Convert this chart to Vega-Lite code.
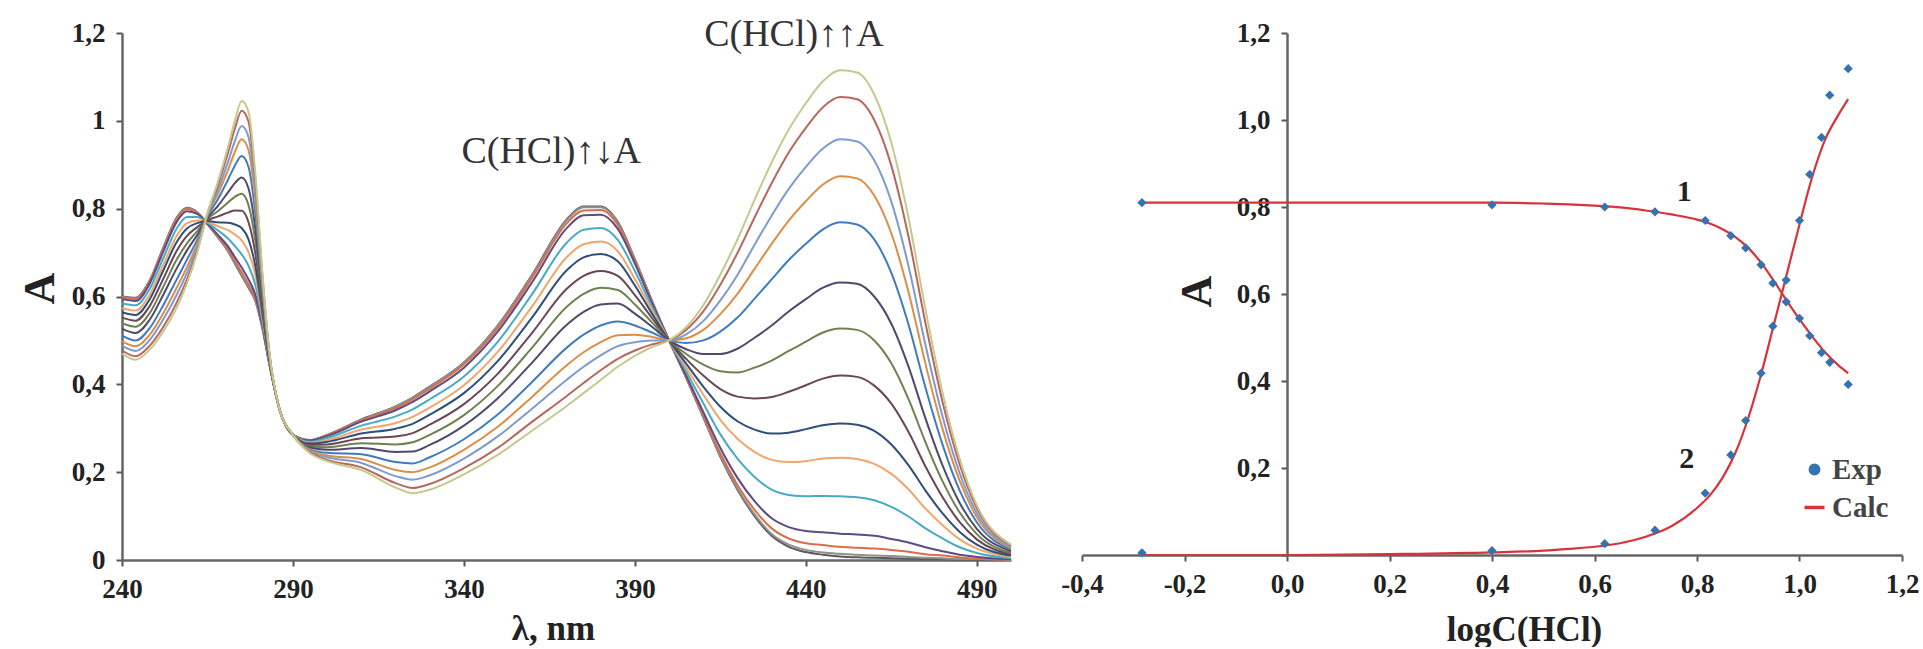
{
"$schema": "https://vega.github.io/schema/vega-lite/v6.json",
"background": "white",
"padding": {"left": 18, "top": 16, "right": 5, "bottom": 0},
"spacing": 71,
"bounds": "flush",
"resolve": {"scale": {"color": "independent"}, "legend": {"color": "independent"}},
"config": {
  "view": {"stroke": null},
  "axis": {"grid": false, "labelFont": "Liberation Serif", "titleFont": "Liberation Serif", "labelFontWeight": "bold", "titleFontWeight": "bold", "labelColor": "#222", "titleColor": "#222", "domainColor": "#666", "tickColor": "#555", "domainWidth": 2.5, "tickWidth": 2, "tickSize": 6, "labelFontSize": 27, "labelFlush": false, "labelOverlap": false}
},
"datasets": {
"spectra": [
{"w":240,"s":0,"a":0.600},{"w":240,"s":1,"a":0.599},{"w":240,"s":2,"a":0.597},{"w":240,"s":3,"a":0.594},{"w":240,"s":4,"a":0.584},{"w":240,"s":5,"a":0.574},{"w":240,"s":6,"a":0.564},{"w":240,"s":7,"a":0.552},{"w":240,"s":8,"a":0.539},{"w":240,"s":9,"a":0.527},{"w":240,"s":10,"a":0.511},{"w":240,"s":11,"a":0.498},{"w":240,"s":12,"a":0.488},{"w":240,"s":13,"a":0.477},{"w":240,"s":14,"a":0.470},
{"w":244,"s":0,"a":0.597},{"w":244,"s":1,"a":0.596},{"w":244,"s":2,"a":0.594},{"w":244,"s":3,"a":0.590},{"w":244,"s":4,"a":0.580},{"w":244,"s":5,"a":0.568},{"w":244,"s":6,"a":0.558},{"w":244,"s":7,"a":0.545},{"w":244,"s":8,"a":0.531},{"w":244,"s":9,"a":0.517},{"w":244,"s":10,"a":0.500},{"w":244,"s":11,"a":0.487},{"w":244,"s":12,"a":0.476},{"w":244,"s":13,"a":0.464},{"w":244,"s":14,"a":0.456},
{"w":248,"s":0,"a":0.635},{"w":248,"s":1,"a":0.634},{"w":248,"s":2,"a":0.632},{"w":248,"s":3,"a":0.628},{"w":248,"s":4,"a":0.616},{"w":248,"s":5,"a":0.603},{"w":248,"s":6,"a":0.592},{"w":248,"s":7,"a":0.577},{"w":248,"s":8,"a":0.561},{"w":248,"s":9,"a":0.546},{"w":248,"s":10,"a":0.527},{"w":248,"s":11,"a":0.512},{"w":248,"s":12,"a":0.500},{"w":248,"s":13,"a":0.487},{"w":248,"s":14,"a":0.478},
{"w":252,"s":0,"a":0.710},{"w":252,"s":1,"a":0.709},{"w":252,"s":2,"a":0.706},{"w":252,"s":3,"a":0.701},{"w":252,"s":4,"a":0.686},{"w":252,"s":5,"a":0.671},{"w":252,"s":6,"a":0.658},{"w":252,"s":7,"a":0.639},{"w":252,"s":8,"a":0.621},{"w":252,"s":9,"a":0.603},{"w":252,"s":10,"a":0.579},{"w":252,"s":11,"a":0.561},{"w":252,"s":12,"a":0.547},{"w":252,"s":13,"a":0.530},{"w":252,"s":14,"a":0.520},
{"w":256,"s":0,"a":0.780},{"w":256,"s":1,"a":0.779},{"w":256,"s":2,"a":0.776},{"w":256,"s":3,"a":0.770},{"w":256,"s":4,"a":0.755},{"w":256,"s":5,"a":0.738},{"w":256,"s":6,"a":0.724},{"w":256,"s":7,"a":0.704},{"w":256,"s":8,"a":0.684},{"w":256,"s":9,"a":0.664},{"w":256,"s":10,"a":0.639},{"w":256,"s":11,"a":0.620},{"w":256,"s":12,"a":0.604},{"w":256,"s":13,"a":0.586},{"w":256,"s":14,"a":0.575},
{"w":259,"s":0,"a":0.802},{"w":259,"s":1,"a":0.801},{"w":259,"s":2,"a":0.799},{"w":259,"s":3,"a":0.794},{"w":259,"s":4,"a":0.781},{"w":259,"s":5,"a":0.767},{"w":259,"s":6,"a":0.755},{"w":259,"s":7,"a":0.738},{"w":259,"s":8,"a":0.721},{"w":259,"s":9,"a":0.705},{"w":259,"s":10,"a":0.684},{"w":259,"s":11,"a":0.667},{"w":259,"s":12,"a":0.654},{"w":259,"s":13,"a":0.639},{"w":259,"s":14,"a":0.630},
{"w":262,"s":0,"a":0.792},{"w":262,"s":1,"a":0.792},{"w":262,"s":2,"a":0.790},{"w":262,"s":3,"a":0.788},{"w":262,"s":4,"a":0.781},{"w":262,"s":5,"a":0.773},{"w":262,"s":6,"a":0.767},{"w":262,"s":7,"a":0.758},{"w":262,"s":8,"a":0.749},{"w":262,"s":9,"a":0.740},{"w":262,"s":10,"a":0.729},{"w":262,"s":11,"a":0.720},{"w":262,"s":12,"a":0.713},{"w":262,"s":13,"a":0.705},{"w":262,"s":14,"a":0.700},
{"w":265,"s":0,"a":0.765},{"w":265,"s":1,"a":0.765},{"w":265,"s":2,"a":0.766},{"w":265,"s":3,"a":0.766},{"w":265,"s":4,"a":0.768},{"w":265,"s":5,"a":0.770},{"w":265,"s":6,"a":0.772},{"w":265,"s":7,"a":0.774},{"w":265,"s":8,"a":0.777},{"w":265,"s":9,"a":0.779},{"w":265,"s":10,"a":0.782},{"w":265,"s":11,"a":0.785},{"w":265,"s":12,"a":0.786},{"w":265,"s":13,"a":0.789},{"w":265,"s":14,"a":0.790},
{"w":268,"s":0,"a":0.735},{"w":268,"s":1,"a":0.736},{"w":268,"s":2,"a":0.738},{"w":268,"s":3,"a":0.741},{"w":268,"s":4,"a":0.751},{"w":268,"s":5,"a":0.760},{"w":268,"s":6,"a":0.769},{"w":268,"s":7,"a":0.782},{"w":268,"s":8,"a":0.794},{"w":268,"s":9,"a":0.806},{"w":268,"s":10,"a":0.821},{"w":268,"s":11,"a":0.833},{"w":268,"s":12,"a":0.842},{"w":268,"s":13,"a":0.853},{"w":268,"s":14,"a":0.860},
{"w":271,"s":0,"a":0.703},{"w":271,"s":1,"a":0.704},{"w":271,"s":2,"a":0.708},{"w":271,"s":3,"a":0.714},{"w":271,"s":4,"a":0.732},{"w":271,"s":5,"a":0.751},{"w":271,"s":6,"a":0.768},{"w":271,"s":7,"a":0.791},{"w":271,"s":8,"a":0.814},{"w":271,"s":9,"a":0.837},{"w":271,"s":10,"a":0.866},{"w":271,"s":11,"a":0.888},{"w":271,"s":12,"a":0.906},{"w":271,"s":13,"a":0.927},{"w":271,"s":14,"a":0.940},
{"w":273,"s":0,"a":0.675},{"w":273,"s":1,"a":0.677},{"w":273,"s":2,"a":0.682},{"w":273,"s":3,"a":0.690},{"w":273,"s":4,"a":0.715},{"w":273,"s":5,"a":0.741},{"w":273,"s":6,"a":0.764},{"w":273,"s":7,"a":0.796},{"w":273,"s":8,"a":0.827},{"w":273,"s":9,"a":0.858},{"w":273,"s":10,"a":0.898},{"w":273,"s":11,"a":0.929},{"w":273,"s":12,"a":0.954},{"w":273,"s":13,"a":0.982},{"w":273,"s":14,"a":1.000},
{"w":275,"s":0,"a":0.647},{"w":275,"s":1,"a":0.649},{"w":275,"s":2,"a":0.655},{"w":275,"s":3,"a":0.666},{"w":275,"s":4,"a":0.696},{"w":275,"s":5,"a":0.728},{"w":275,"s":6,"a":0.756},{"w":275,"s":7,"a":0.795},{"w":275,"s":8,"a":0.834},{"w":275,"s":9,"a":0.871},{"w":275,"s":10,"a":0.920},{"w":275,"s":11,"a":0.958},{"w":275,"s":12,"a":0.988},{"w":275,"s":13,"a":1.023},{"w":275,"s":14,"a":1.045},
{"w":277,"s":0,"a":0.620},{"w":277,"s":1,"a":0.622},{"w":277,"s":2,"a":0.628},{"w":277,"s":3,"a":0.639},{"w":277,"s":4,"a":0.670},{"w":277,"s":5,"a":0.701},{"w":277,"s":6,"a":0.730},{"w":277,"s":7,"a":0.769},{"w":277,"s":8,"a":0.808},{"w":277,"s":9,"a":0.846},{"w":277,"s":10,"a":0.895},{"w":277,"s":11,"a":0.933},{"w":277,"s":12,"a":0.963},{"w":277,"s":13,"a":0.998},{"w":277,"s":14,"a":1.020},
{"w":279,"s":0,"a":0.590},{"w":279,"s":1,"a":0.591},{"w":279,"s":2,"a":0.596},{"w":279,"s":3,"a":0.604},{"w":279,"s":4,"a":0.626},{"w":279,"s":5,"a":0.649},{"w":279,"s":6,"a":0.669},{"w":279,"s":7,"a":0.698},{"w":279,"s":8,"a":0.726},{"w":279,"s":9,"a":0.754},{"w":279,"s":10,"a":0.789},{"w":279,"s":11,"a":0.817},{"w":279,"s":12,"a":0.839},{"w":279,"s":13,"a":0.864},{"w":279,"s":14,"a":0.880},
{"w":281,"s":0,"a":0.530},{"w":281,"s":1,"a":0.531},{"w":281,"s":2,"a":0.533},{"w":281,"s":3,"a":0.536},{"w":281,"s":4,"a":0.546},{"w":281,"s":5,"a":0.556},{"w":281,"s":6,"a":0.566},{"w":281,"s":7,"a":0.578},{"w":281,"s":8,"a":0.591},{"w":281,"s":9,"a":0.603},{"w":281,"s":10,"a":0.619},{"w":281,"s":11,"a":0.632},{"w":281,"s":12,"a":0.642},{"w":281,"s":13,"a":0.653},{"w":281,"s":14,"a":0.660},
{"w":283,"s":0,"a":0.450},{"w":283,"s":1,"a":0.450},{"w":283,"s":2,"a":0.451},{"w":283,"s":3,"a":0.451},{"w":283,"s":4,"a":0.454},{"w":283,"s":5,"a":0.456},{"w":283,"s":6,"a":0.458},{"w":283,"s":7,"a":0.461},{"w":283,"s":8,"a":0.464},{"w":283,"s":9,"a":0.467},{"w":283,"s":10,"a":0.471},{"w":283,"s":11,"a":0.473},{"w":283,"s":12,"a":0.476},{"w":283,"s":13,"a":0.478},{"w":283,"s":14,"a":0.480},
{"w":286,"s":0,"a":0.345},{"w":286,"s":1,"a":0.345},{"w":286,"s":2,"a":0.345},{"w":286,"s":3,"a":0.345},{"w":286,"s":4,"a":0.345},{"w":286,"s":5,"a":0.345},{"w":286,"s":6,"a":0.345},{"w":286,"s":7,"a":0.345},{"w":286,"s":8,"a":0.345},{"w":286,"s":9,"a":0.345},{"w":286,"s":10,"a":0.345},{"w":286,"s":11,"a":0.345},{"w":286,"s":12,"a":0.345},{"w":286,"s":13,"a":0.345},{"w":286,"s":14,"a":0.345},
{"w":290,"s":0,"a":0.285},{"w":290,"s":1,"a":0.285},{"w":290,"s":2,"a":0.285},{"w":290,"s":3,"a":0.285},{"w":290,"s":4,"a":0.285},{"w":290,"s":5,"a":0.285},{"w":290,"s":6,"a":0.285},{"w":290,"s":7,"a":0.285},{"w":290,"s":8,"a":0.285},{"w":290,"s":9,"a":0.285},{"w":290,"s":10,"a":0.285},{"w":290,"s":11,"a":0.285},{"w":290,"s":12,"a":0.285},{"w":290,"s":13,"a":0.285},{"w":290,"s":14,"a":0.285},
{"w":295,"s":0,"a":0.273},{"w":295,"s":1,"a":0.273},{"w":295,"s":2,"a":0.272},{"w":295,"s":3,"a":0.272},{"w":295,"s":4,"a":0.269},{"w":295,"s":5,"a":0.267},{"w":295,"s":6,"a":0.265},{"w":295,"s":7,"a":0.262},{"w":295,"s":8,"a":0.259},{"w":295,"s":9,"a":0.256},{"w":295,"s":10,"a":0.252},{"w":295,"s":11,"a":0.250},{"w":295,"s":12,"a":0.247},{"w":295,"s":13,"a":0.245},{"w":295,"s":14,"a":0.243},
{"w":300,"s":0,"a":0.285},{"w":300,"s":1,"a":0.285},{"w":300,"s":2,"a":0.284},{"w":300,"s":3,"a":0.282},{"w":300,"s":4,"a":0.278},{"w":300,"s":5,"a":0.273},{"w":300,"s":6,"a":0.269},{"w":300,"s":7,"a":0.263},{"w":300,"s":8,"a":0.257},{"w":300,"s":9,"a":0.251},{"w":300,"s":10,"a":0.244},{"w":300,"s":11,"a":0.238},{"w":300,"s":12,"a":0.234},{"w":300,"s":13,"a":0.228},{"w":300,"s":14,"a":0.225},
{"w":310,"s":0,"a":0.320},{"w":310,"s":1,"a":0.319},{"w":310,"s":2,"a":0.318},{"w":310,"s":3,"a":0.315},{"w":310,"s":4,"a":0.306},{"w":310,"s":5,"a":0.297},{"w":310,"s":6,"a":0.288},{"w":310,"s":7,"a":0.277},{"w":310,"s":8,"a":0.266},{"w":310,"s":9,"a":0.255},{"w":310,"s":10,"a":0.241},{"w":310,"s":11,"a":0.230},{"w":310,"s":12,"a":0.221},{"w":310,"s":13,"a":0.211},{"w":310,"s":14,"a":0.205},
{"w":320,"s":0,"a":0.350},{"w":320,"s":1,"a":0.349},{"w":320,"s":2,"a":0.346},{"w":320,"s":3,"a":0.341},{"w":320,"s":4,"a":0.327},{"w":320,"s":5,"a":0.312},{"w":320,"s":6,"a":0.299},{"w":320,"s":7,"a":0.281},{"w":320,"s":8,"a":0.263},{"w":320,"s":9,"a":0.246},{"w":320,"s":10,"a":0.223},{"w":320,"s":11,"a":0.205},{"w":320,"s":12,"a":0.191},{"w":320,"s":13,"a":0.175},{"w":320,"s":14,"a":0.165},
{"w":325,"s":0,"a":0.370},{"w":325,"s":1,"a":0.369},{"w":325,"s":2,"a":0.366},{"w":325,"s":3,"a":0.360},{"w":325,"s":4,"a":0.343},{"w":325,"s":5,"a":0.326},{"w":325,"s":6,"a":0.310},{"w":325,"s":7,"a":0.289},{"w":325,"s":8,"a":0.268},{"w":325,"s":9,"a":0.247},{"w":325,"s":10,"a":0.220},{"w":325,"s":11,"a":0.200},{"w":325,"s":12,"a":0.183},{"w":325,"s":13,"a":0.164},{"w":325,"s":14,"a":0.152},
{"w":330,"s":0,"a":0.395},{"w":330,"s":1,"a":0.394},{"w":330,"s":2,"a":0.390},{"w":330,"s":3,"a":0.384},{"w":330,"s":4,"a":0.366},{"w":330,"s":5,"a":0.347},{"w":330,"s":6,"a":0.331},{"w":330,"s":7,"a":0.308},{"w":330,"s":8,"a":0.285},{"w":330,"s":9,"a":0.262},{"w":330,"s":10,"a":0.234},{"w":330,"s":11,"a":0.211},{"w":330,"s":12,"a":0.193},{"w":330,"s":13,"a":0.173},{"w":330,"s":14,"a":0.160},
{"w":340,"s":0,"a":0.450},{"w":340,"s":1,"a":0.449},{"w":340,"s":2,"a":0.445},{"w":340,"s":3,"a":0.438},{"w":340,"s":4,"a":0.418},{"w":340,"s":5,"a":0.398},{"w":340,"s":6,"a":0.380},{"w":340,"s":7,"a":0.355},{"w":340,"s":8,"a":0.330},{"w":340,"s":9,"a":0.306},{"w":340,"s":10,"a":0.275},{"w":340,"s":11,"a":0.251},{"w":340,"s":12,"a":0.231},{"w":340,"s":13,"a":0.209},{"w":340,"s":14,"a":0.195},
{"w":350,"s":0,"a":0.535},{"w":350,"s":1,"a":0.534},{"w":350,"s":2,"a":0.529},{"w":350,"s":3,"a":0.521},{"w":350,"s":4,"a":0.498},{"w":350,"s":5,"a":0.475},{"w":350,"s":6,"a":0.454},{"w":350,"s":7,"a":0.425},{"w":350,"s":8,"a":0.397},{"w":350,"s":9,"a":0.369},{"w":350,"s":10,"a":0.332},{"w":350,"s":11,"a":0.304},{"w":350,"s":12,"a":0.282},{"w":350,"s":13,"a":0.256},{"w":350,"s":14,"a":0.240},
{"w":360,"s":0,"a":0.650},{"w":360,"s":1,"a":0.648},{"w":360,"s":2,"a":0.643},{"w":360,"s":3,"a":0.633},{"w":360,"s":4,"a":0.606},{"w":360,"s":5,"a":0.578},{"w":360,"s":6,"a":0.553},{"w":360,"s":7,"a":0.518},{"w":360,"s":8,"a":0.484},{"w":360,"s":9,"a":0.450},{"w":360,"s":10,"a":0.406},{"w":360,"s":11,"a":0.372},{"w":360,"s":12,"a":0.345},{"w":360,"s":13,"a":0.315},{"w":360,"s":14,"a":0.295},
{"w":370,"s":0,"a":0.775},{"w":370,"s":1,"a":0.773},{"w":370,"s":2,"a":0.766},{"w":370,"s":3,"a":0.755},{"w":370,"s":4,"a":0.722},{"w":370,"s":5,"a":0.689},{"w":370,"s":6,"a":0.659},{"w":370,"s":7,"a":0.617},{"w":370,"s":8,"a":0.576},{"w":370,"s":9,"a":0.535},{"w":370,"s":10,"a":0.483},{"w":370,"s":11,"a":0.443},{"w":370,"s":12,"a":0.410},{"w":370,"s":13,"a":0.373},{"w":370,"s":14,"a":0.350},
{"w":375,"s":0,"a":0.805},{"w":375,"s":1,"a":0.803},{"w":375,"s":2,"a":0.796},{"w":375,"s":3,"a":0.785},{"w":375,"s":4,"a":0.752},{"w":375,"s":5,"a":0.719},{"w":375,"s":6,"a":0.689},{"w":375,"s":7,"a":0.647},{"w":375,"s":8,"a":0.606},{"w":375,"s":9,"a":0.565},{"w":375,"s":10,"a":0.513},{"w":375,"s":11,"a":0.473},{"w":375,"s":12,"a":0.440},{"w":375,"s":13,"a":0.403},{"w":375,"s":14,"a":0.380},
{"w":380,"s":0,"a":0.805},{"w":380,"s":1,"a":0.803},{"w":380,"s":2,"a":0.797},{"w":380,"s":3,"a":0.786},{"w":380,"s":4,"a":0.756},{"w":380,"s":5,"a":0.725},{"w":380,"s":6,"a":0.697},{"w":380,"s":7,"a":0.658},{"w":380,"s":8,"a":0.620},{"w":380,"s":9,"a":0.582},{"w":380,"s":10,"a":0.534},{"w":380,"s":11,"a":0.496},{"w":380,"s":12,"a":0.466},{"w":380,"s":13,"a":0.432},{"w":380,"s":14,"a":0.410},
{"w":385,"s":0,"a":0.770},{"w":385,"s":1,"a":0.768},{"w":385,"s":2,"a":0.763},{"w":385,"s":3,"a":0.754},{"w":385,"s":4,"a":0.729},{"w":385,"s":5,"a":0.703},{"w":385,"s":6,"a":0.680},{"w":385,"s":7,"a":0.647},{"w":385,"s":8,"a":0.615},{"w":385,"s":9,"a":0.584},{"w":385,"s":10,"a":0.543},{"w":385,"s":11,"a":0.512},{"w":385,"s":12,"a":0.487},{"w":385,"s":13,"a":0.458},{"w":385,"s":14,"a":0.440},
{"w":390,"s":0,"a":0.685},{"w":390,"s":1,"a":0.684},{"w":390,"s":2,"a":0.681},{"w":390,"s":3,"a":0.675},{"w":390,"s":4,"a":0.658},{"w":390,"s":5,"a":0.640},{"w":390,"s":6,"a":0.625},{"w":390,"s":7,"a":0.603},{"w":390,"s":8,"a":0.582},{"w":390,"s":9,"a":0.561},{"w":390,"s":10,"a":0.534},{"w":390,"s":11,"a":0.513},{"w":390,"s":12,"a":0.496},{"w":390,"s":13,"a":0.477},{"w":390,"s":14,"a":0.465},
{"w":395,"s":0,"a":0.590},{"w":395,"s":1,"a":0.589},{"w":395,"s":2,"a":0.588},{"w":395,"s":3,"a":0.585},{"w":395,"s":4,"a":0.577},{"w":395,"s":5,"a":0.569},{"w":395,"s":6,"a":0.561},{"w":395,"s":7,"a":0.551},{"w":395,"s":8,"a":0.541},{"w":395,"s":9,"a":0.531},{"w":395,"s":10,"a":0.518},{"w":395,"s":11,"a":0.508},{"w":395,"s":12,"a":0.500},{"w":395,"s":13,"a":0.491},{"w":395,"s":14,"a":0.485},
{"w":400,"s":0,"a":0.500},{"w":400,"s":1,"a":0.500},{"w":400,"s":2,"a":0.500},{"w":400,"s":3,"a":0.500},{"w":400,"s":4,"a":0.500},{"w":400,"s":5,"a":0.500},{"w":400,"s":6,"a":0.500},{"w":400,"s":7,"a":0.500},{"w":400,"s":8,"a":0.500},{"w":400,"s":9,"a":0.500},{"w":400,"s":10,"a":0.500},{"w":400,"s":11,"a":0.500},{"w":400,"s":12,"a":0.500},{"w":400,"s":13,"a":0.500},{"w":400,"s":14,"a":0.500},
{"w":405,"s":0,"a":0.415},{"w":405,"s":1,"a":0.416},{"w":405,"s":2,"a":0.417},{"w":405,"s":3,"a":0.420},{"w":405,"s":4,"a":0.429},{"w":405,"s":5,"a":0.438},{"w":405,"s":6,"a":0.447},{"w":405,"s":7,"a":0.458},{"w":405,"s":8,"a":0.469},{"w":405,"s":9,"a":0.480},{"w":405,"s":10,"a":0.494},{"w":405,"s":11,"a":0.505},{"w":405,"s":12,"a":0.514},{"w":405,"s":13,"a":0.524},{"w":405,"s":14,"a":0.530},
{"w":410,"s":0,"a":0.325},{"w":410,"s":1,"a":0.326},{"w":410,"s":2,"a":0.330},{"w":410,"s":3,"a":0.337},{"w":410,"s":4,"a":0.357},{"w":410,"s":5,"a":0.377},{"w":410,"s":6,"a":0.395},{"w":410,"s":7,"a":0.420},{"w":410,"s":8,"a":0.445},{"w":410,"s":9,"a":0.469},{"w":410,"s":10,"a":0.500},{"w":410,"s":11,"a":0.524},{"w":410,"s":12,"a":0.544},{"w":410,"s":13,"a":0.566},{"w":410,"s":14,"a":0.580},
{"w":415,"s":0,"a":0.235},{"w":415,"s":1,"a":0.237},{"w":415,"s":2,"a":0.243},{"w":415,"s":3,"a":0.255},{"w":415,"s":4,"a":0.286},{"w":415,"s":5,"a":0.319},{"w":415,"s":6,"a":0.349},{"w":415,"s":7,"a":0.389},{"w":415,"s":8,"a":0.430},{"w":415,"s":9,"a":0.469},{"w":415,"s":10,"a":0.520},{"w":415,"s":11,"a":0.560},{"w":415,"s":12,"a":0.591},{"w":415,"s":13,"a":0.627},{"w":415,"s":14,"a":0.650},
{"w":420,"s":0,"a":0.160},{"w":420,"s":1,"a":0.163},{"w":420,"s":2,"a":0.171},{"w":420,"s":3,"a":0.187},{"w":420,"s":4,"a":0.231},{"w":420,"s":5,"a":0.276},{"w":420,"s":6,"a":0.316},{"w":420,"s":7,"a":0.372},{"w":420,"s":8,"a":0.427},{"w":420,"s":9,"a":0.481},{"w":420,"s":10,"a":0.552},{"w":420,"s":11,"a":0.606},{"w":420,"s":12,"a":0.649},{"w":420,"s":13,"a":0.699},{"w":420,"s":14,"a":0.730},
{"w":425,"s":0,"a":0.100},{"w":425,"s":1,"a":0.104},{"w":425,"s":2,"a":0.114},{"w":425,"s":3,"a":0.134},{"w":425,"s":4,"a":0.189},{"w":425,"s":5,"a":0.246},{"w":425,"s":6,"a":0.297},{"w":425,"s":7,"a":0.368},{"w":425,"s":8,"a":0.438},{"w":425,"s":9,"a":0.506},{"w":425,"s":10,"a":0.595},{"w":425,"s":11,"a":0.663},{"w":425,"s":12,"a":0.718},{"w":425,"s":13,"a":0.780},{"w":425,"s":14,"a":0.820},
{"w":430,"s":0,"a":0.055},{"w":430,"s":1,"a":0.059},{"w":430,"s":2,"a":0.072},{"w":430,"s":3,"a":0.095},{"w":430,"s":4,"a":0.160},{"w":430,"s":5,"a":0.228},{"w":430,"s":6,"a":0.288},{"w":430,"s":7,"a":0.371},{"w":430,"s":8,"a":0.454},{"w":430,"s":9,"a":0.534},{"w":430,"s":10,"a":0.639},{"w":430,"s":11,"a":0.720},{"w":430,"s":12,"a":0.784},{"w":430,"s":13,"a":0.858},{"w":430,"s":14,"a":0.905},
{"w":435,"s":0,"a":0.030},{"w":435,"s":1,"a":0.035},{"w":435,"s":2,"a":0.049},{"w":435,"s":3,"a":0.075},{"w":435,"s":4,"a":0.148},{"w":435,"s":5,"a":0.223},{"w":435,"s":6,"a":0.290},{"w":435,"s":7,"a":0.383},{"w":435,"s":8,"a":0.476},{"w":435,"s":9,"a":0.566},{"w":435,"s":10,"a":0.683},{"w":435,"s":11,"a":0.773},{"w":435,"s":12,"a":0.845},{"w":435,"s":13,"a":0.928},{"w":435,"s":14,"a":0.980},
{"w":440,"s":0,"a":0.018},{"w":440,"s":1,"a":0.023},{"w":440,"s":2,"a":0.038},{"w":440,"s":3,"a":0.066},{"w":440,"s":4,"a":0.145},{"w":440,"s":5,"a":0.225},{"w":440,"s":6,"a":0.298},{"w":440,"s":7,"a":0.398},{"w":440,"s":8,"a":0.497},{"w":440,"s":9,"a":0.594},{"w":440,"s":10,"a":0.720},{"w":440,"s":11,"a":0.817},{"w":440,"s":12,"a":0.895},{"w":440,"s":13,"a":0.984},{"w":440,"s":14,"a":1.040},
{"w":445,"s":0,"a":0.012},{"w":445,"s":1,"a":0.017},{"w":445,"s":2,"a":0.034},{"w":445,"s":3,"a":0.063},{"w":445,"s":4,"a":0.146},{"w":445,"s":5,"a":0.231},{"w":445,"s":6,"a":0.307},{"w":445,"s":7,"a":0.413},{"w":445,"s":8,"a":0.518},{"w":445,"s":9,"a":0.620},{"w":445,"s":10,"a":0.753},{"w":445,"s":11,"a":0.855},{"w":445,"s":12,"a":0.937},{"w":445,"s":13,"a":1.031},{"w":445,"s":14,"a":1.090},
{"w":450,"s":0,"a":0.008},{"w":450,"s":1,"a":0.014},{"w":450,"s":2,"a":0.030},{"w":450,"s":3,"a":0.060},{"w":450,"s":4,"a":0.145},{"w":450,"s":5,"a":0.233},{"w":450,"s":6,"a":0.311},{"w":450,"s":7,"a":0.420},{"w":450,"s":8,"a":0.527},{"w":450,"s":9,"a":0.632},{"w":450,"s":10,"a":0.769},{"w":450,"s":11,"a":0.874},{"w":450,"s":12,"a":0.958},{"w":450,"s":13,"a":1.054},{"w":450,"s":14,"a":1.115},
{"w":455,"s":0,"a":0.006},{"w":455,"s":1,"a":0.012},{"w":455,"s":2,"a":0.028},{"w":455,"s":3,"a":0.058},{"w":455,"s":4,"a":0.143},{"w":455,"s":5,"a":0.230},{"w":455,"s":6,"a":0.308},{"w":455,"s":7,"a":0.417},{"w":455,"s":8,"a":0.524},{"w":455,"s":9,"a":0.629},{"w":455,"s":10,"a":0.764},{"w":455,"s":11,"a":0.869},{"w":455,"s":12,"a":0.953},{"w":455,"s":13,"a":1.049},{"w":455,"s":14,"a":1.110},
{"w":460,"s":0,"a":0.005},{"w":460,"s":1,"a":0.010},{"w":460,"s":2,"a":0.026},{"w":460,"s":3,"a":0.055},{"w":460,"s":4,"a":0.136},{"w":460,"s":5,"a":0.219},{"w":460,"s":6,"a":0.294},{"w":460,"s":7,"a":0.397},{"w":460,"s":8,"a":0.500},{"w":460,"s":9,"a":0.600},{"w":460,"s":10,"a":0.730},{"w":460,"s":11,"a":0.830},{"w":460,"s":12,"a":0.910},{"w":460,"s":13,"a":1.002},{"w":460,"s":14,"a":1.060},
{"w":465,"s":0,"a":0.004},{"w":465,"s":1,"a":0.009},{"w":465,"s":2,"a":0.023},{"w":465,"s":3,"a":0.048},{"w":465,"s":4,"a":0.121},{"w":465,"s":5,"a":0.196},{"w":465,"s":6,"a":0.263},{"w":465,"s":7,"a":0.356},{"w":465,"s":8,"a":0.448},{"w":465,"s":9,"a":0.538},{"w":465,"s":10,"a":0.654},{"w":465,"s":11,"a":0.744},{"w":465,"s":12,"a":0.816},{"w":465,"s":13,"a":0.898},{"w":465,"s":14,"a":0.950},
{"w":470,"s":0,"a":0.003},{"w":470,"s":1,"a":0.007},{"w":470,"s":2,"a":0.019},{"w":470,"s":3,"a":0.040},{"w":470,"s":4,"a":0.099},{"w":470,"s":5,"a":0.161},{"w":470,"s":6,"a":0.216},{"w":470,"s":7,"a":0.292},{"w":470,"s":8,"a":0.367},{"w":470,"s":9,"a":0.441},{"w":470,"s":10,"a":0.537},{"w":470,"s":11,"a":0.611},{"w":470,"s":12,"a":0.670},{"w":470,"s":13,"a":0.737},{"w":470,"s":14,"a":0.780},
{"w":475,"s":0,"a":0.002},{"w":475,"s":1,"a":0.005},{"w":475,"s":2,"a":0.013},{"w":475,"s":3,"a":0.029},{"w":475,"s":4,"a":0.072},{"w":475,"s":5,"a":0.117},{"w":475,"s":6,"a":0.158},{"w":475,"s":7,"a":0.213},{"w":475,"s":8,"a":0.268},{"w":475,"s":9,"a":0.322},{"w":475,"s":10,"a":0.392},{"w":475,"s":11,"a":0.446},{"w":475,"s":12,"a":0.489},{"w":475,"s":13,"a":0.539},{"w":475,"s":14,"a":0.570},
{"w":480,"s":0,"a":0.002},{"w":480,"s":1,"a":0.004},{"w":480,"s":2,"a":0.010},{"w":480,"s":3,"a":0.020},{"w":480,"s":4,"a":0.049},{"w":480,"s":5,"a":0.079},{"w":480,"s":6,"a":0.106},{"w":480,"s":7,"a":0.143},{"w":480,"s":8,"a":0.179},{"w":480,"s":9,"a":0.215},{"w":480,"s":10,"a":0.262},{"w":480,"s":11,"a":0.298},{"w":480,"s":12,"a":0.326},{"w":480,"s":13,"a":0.359},{"w":480,"s":14,"a":0.380},
{"w":485,"s":0,"a":0.001},{"w":485,"s":1,"a":0.002},{"w":485,"s":2,"a":0.006},{"w":485,"s":3,"a":0.012},{"w":485,"s":4,"a":0.029},{"w":485,"s":5,"a":0.047},{"w":485,"s":6,"a":0.064},{"w":485,"s":7,"a":0.086},{"w":485,"s":8,"a":0.108},{"w":485,"s":9,"a":0.130},{"w":485,"s":10,"a":0.158},{"w":485,"s":11,"a":0.180},{"w":485,"s":12,"a":0.197},{"w":485,"s":13,"a":0.217},{"w":485,"s":14,"a":0.230},
{"w":490,"s":0,"a":0.001},{"w":490,"s":1,"a":0.002},{"w":490,"s":2,"a":0.003},{"w":490,"s":3,"a":0.007},{"w":490,"s":4,"a":0.016},{"w":490,"s":5,"a":0.026},{"w":490,"s":6,"a":0.035},{"w":490,"s":7,"a":0.047},{"w":490,"s":8,"a":0.059},{"w":490,"s":9,"a":0.071},{"w":490,"s":10,"a":0.086},{"w":490,"s":11,"a":0.098},{"w":490,"s":12,"a":0.107},{"w":490,"s":13,"a":0.118},{"w":490,"s":14,"a":0.125},
{"w":500,"s":0,"a":0.000},{"w":500,"s":1,"a":0.000},{"w":500,"s":2,"a":0.001},{"w":500,"s":3,"a":0.002},{"w":500,"s":4,"a":0.004},{"w":500,"s":5,"a":0.007},{"w":500,"s":6,"a":0.010},{"w":500,"s":7,"a":0.013},{"w":500,"s":8,"a":0.016},{"w":500,"s":9,"a":0.020},{"w":500,"s":10,"a":0.024},{"w":500,"s":11,"a":0.027},{"w":500,"s":12,"a":0.030},{"w":500,"s":13,"a":0.033},{"w":500,"s":14,"a":0.035}
],
"notesL": [
{"x": 365.5, "y": 0.93, "t": "C(HCl)↑↓A"},
{"x": 436.5, "y": 1.195, "t": "C(HCl)↑↑A"}
],
"calc": [
{"x":-0.29,"y":0.81,"c":1,"kind":"Calc"},{"x":0,"y":0.81,"c":1,"kind":"Calc"},{"x":0.2,"y":0.81,"c":1,"kind":"Calc"},{"x":0.4,"y":0.81,"c":1,"kind":"Calc"},{"x":0.5,"y":0.808,"c":1,"kind":"Calc"},{"x":0.55,"y":0.806,"c":1,"kind":"Calc"},{"x":0.6,"y":0.803,"c":1,"kind":"Calc"},{"x":0.65,"y":0.799,"c":1,"kind":"Calc"},{"x":0.7,"y":0.792,"c":1,"kind":"Calc"},{"x":0.75,"y":0.783,"c":1,"kind":"Calc"},{"x":0.8,"y":0.771,"c":1,"kind":"Calc"},{"x":0.825,"y":0.762,"c":1,"kind":"Calc"},{"x":0.85,"y":0.749,"c":1,"kind":"Calc"},{"x":0.875,"y":0.731,"c":1,"kind":"Calc"},{"x":0.9,"y":0.706,"c":1,"kind":"Calc"},{"x":0.925,"y":0.672,"c":1,"kind":"Calc"},{"x":0.95,"y":0.63,"c":1,"kind":"Calc"},{"x":0.975,"y":0.585,"c":1,"kind":"Calc"},{"x":1.0,"y":0.542,"c":1,"kind":"Calc"},{"x":1.025,"y":0.502,"c":1,"kind":"Calc"},{"x":1.05,"y":0.466,"c":1,"kind":"Calc"},{"x":1.075,"y":0.437,"c":1,"kind":"Calc"},{"x":1.095,"y":0.418,"c":1,"kind":"Calc"},
{"x":-0.29,"y":0.0,"c":2,"kind":"Calc"},{"x":0,"y":0.0,"c":2,"kind":"Calc"},{"x":0.2,"y":0.002,"c":2,"kind":"Calc"},{"x":0.4,"y":0.006,"c":2,"kind":"Calc"},{"x":0.5,"y":0.01,"c":2,"kind":"Calc"},{"x":0.55,"y":0.014,"c":2,"kind":"Calc"},{"x":0.6,"y":0.019,"c":2,"kind":"Calc"},{"x":0.65,"y":0.027,"c":2,"kind":"Calc"},{"x":0.7,"y":0.042,"c":2,"kind":"Calc"},{"x":0.75,"y":0.066,"c":2,"kind":"Calc"},{"x":0.8,"y":0.108,"c":2,"kind":"Calc"},{"x":0.825,"y":0.137,"c":2,"kind":"Calc"},{"x":0.85,"y":0.178,"c":2,"kind":"Calc"},{"x":0.875,"y":0.235,"c":2,"kind":"Calc"},{"x":0.9,"y":0.315,"c":2,"kind":"Calc"},{"x":0.925,"y":0.415,"c":2,"kind":"Calc"},{"x":0.95,"y":0.53,"c":2,"kind":"Calc"},{"x":0.975,"y":0.645,"c":2,"kind":"Calc"},{"x":1.0,"y":0.76,"c":2,"kind":"Calc"},{"x":1.025,"y":0.87,"c":2,"kind":"Calc"},{"x":1.05,"y":0.955,"c":2,"kind":"Calc"},{"x":1.075,"y":1.01,"c":2,"kind":"Calc"},{"x":1.095,"y":1.048,"c":2,"kind":"Calc"}
],
"exp": [
{"x":-0.283,"y":0.81,"c":1,"kind":"Exp"},{"x":0.40,"y":0.805,"c":1,"kind":"Exp"},{"x":0.62,"y":0.80,"c":1,"kind":"Exp"},{"x":0.718,"y":0.789,"c":1,"kind":"Exp"},{"x":0.816,"y":0.769,"c":1,"kind":"Exp"},{"x":0.866,"y":0.734,"c":1,"kind":"Exp"},{"x":0.895,"y":0.706,"c":1,"kind":"Exp"},{"x":0.925,"y":0.667,"c":1,"kind":"Exp"},{"x":0.948,"y":0.625,"c":1,"kind":"Exp"},{"x":0.974,"y":0.582,"c":1,"kind":"Exp"},{"x":1.0,"y":0.544,"c":1,"kind":"Exp"},{"x":1.02,"y":0.504,"c":1,"kind":"Exp"},{"x":1.043,"y":0.465,"c":1,"kind":"Exp"},{"x":1.059,"y":0.443,"c":1,"kind":"Exp"},{"x":1.095,"y":0.392,"c":1,"kind":"Exp"},
{"x":-0.283,"y":0.005,"c":2,"kind":"Exp"},{"x":0.40,"y":0.01,"c":2,"kind":"Exp"},{"x":0.62,"y":0.026,"c":2,"kind":"Exp"},{"x":0.718,"y":0.057,"c":2,"kind":"Exp"},{"x":0.816,"y":0.142,"c":2,"kind":"Exp"},{"x":0.866,"y":0.23,"c":2,"kind":"Exp"},{"x":0.895,"y":0.309,"c":2,"kind":"Exp"},{"x":0.925,"y":0.418,"c":2,"kind":"Exp"},{"x":0.948,"y":0.526,"c":2,"kind":"Exp"},{"x":0.974,"y":0.632,"c":2,"kind":"Exp"},{"x":1.0,"y":0.769,"c":2,"kind":"Exp"},{"x":1.02,"y":0.875,"c":2,"kind":"Exp"},{"x":1.043,"y":0.96,"c":2,"kind":"Exp"},{"x":1.059,"y":1.057,"c":2,"kind":"Exp"},{"x":1.095,"y":1.118,"c":2,"kind":"Exp"}
],
"notesR": [
{"x": 0.775, "y": 0.835, "t": "1"},
{"x": 0.78, "y": 0.22, "t": "2"}
]
},
"hconcat": [
{
  "width": 889,
  "height": 527,
  "layer": [
    {
      "data": {"name": "spectra"},
      "mark": {"type": "line", "interpolate": "monotone", "strokeWidth": 2},
      "encoding": {
        "x": {"field": "w", "type": "quantitative", "scale": {"domain": [240, 500], "nice": false, "zero": false},
              "axis": {"values": [240, 290, 340, 390, 440, 490], "title": "λ, nm", "titleFontSize": 35, "titleX": 431, "titleY": 68, "titleBaseline": "middle", "labelPadding": 10}},
        "y": {"field": "a", "type": "quantitative", "scale": {"domain": [0, 1.2], "nice": false},
              "axis": {"values": [0, 0.2, 0.4, 0.6, 0.8, 1, 1.2], "labelExpr": "replace(format(datum.value, '~g'), '.', ',')", "title": "A", "titleFontSize": 44, "titleAngle": 270, "titleX": -82, "titleY": 255, "titleBaseline": "middle", "titleAlign": "center", "labelPadding": 11}},
        "color": {"field": "s", "type": "nominal", "legend": null,
                  "scale": {"domain": [0,1,2,3,4,5,6,7,8,9,10,11,12,13,14],
                            "range": ["#5a5a5a","#8f8f8f","#d96f4a","#5d4b82","#48abc4","#f0a66c","#2f4f7a","#6a4656","#6e8150","#4f4a6c","#3f7cbf","#dd8e46","#7d9bd1","#b8675e","#c5c98c"]}}
      }
    },
    {
      "data": {"name": "notesL"},
      "mark": {"type": "text", "font": "Liberation Serif", "fontSize": 38, "color": "#333", "baseline": "middle", "align": "center"},
      "encoding": {
        "x": {"field": "x", "type": "quantitative"},
        "y": {"field": "y", "type": "quantitative"},
        "text": {"field": "t"}
      }
    }
  ]
},
{
  "width": 820,
  "height": 522,
  "layer": [
    {
      "data": {"name": "calc"},
      "mark": {"type": "line", "interpolate": "monotone", "strokeWidth": 2.2},
      "encoding": {
        "x": {"field": "x", "type": "quantitative", "scale": {"domain": [-0.4, 1.2], "nice": false, "zero": false},
              "axis": {"values": [-0.4, -0.2, 0, 0.2, 0.4, 0.6, 0.8, 1, 1.2], "labelExpr": "replace(replace(format(datum.value, '.1f'), '.', ','), '\u2212', '-')", "title": "logC(HCl)", "titleFontSize": 35, "titleX": 442, "titleY": 74, "titleBaseline": "middle", "labelPadding": 10}},
        "y": {"field": "y", "type": "quantitative", "scale": {"domain": [0, 1.2], "nice": false},
              "axis": {"values": [0, 0.2, 0.4, 0.6, 0.8, 1, 1.2], "offset": -205, "labelExpr": "datum.value == 0 ? '' : replace(format(datum.value, '.1f'), '.', ',')", "title": "A", "titleFontSize": 44, "titleAngle": 270, "titleX": -90, "titleY": 258, "titleBaseline": "middle", "titleAlign": "center", "labelPadding": 11}},
        "detail": {"field": "c"},
        "color": {"field": "kind", "type": "nominal",
                  "scale": {"domain": ["Exp", "Calc"], "range": ["#3572b0", "#d7333a"]},
                  "legend": {"orient": "none", "legendX": 718, "legendY": 422, "title": null, "padding": 0,
                             "labelFont": "Liberation Serif", "labelFontSize": 29, "labelFontWeight": "bold", "labelColor": "#444",
                             "symbolSize": 400, "rowPadding": 8, "labelOffset": 3,
                             "encode": {"symbols": {"update": {
                               "shape": {"signal": "datum.value === 'Calc' ? 'stroke' : 'circle'"},
                               "size": {"signal": "datum.value === 'Calc' ? 400 : 70"},
                               "fill": {"signal": "datum.value === 'Calc' ? 'transparent' : '#3572b0'"},
                               "stroke": {"signal": "datum.value === 'Calc' ? '#d7333a' : 'transparent'"},
                               "strokeWidth": {"value": 3.5},
                               "opacity": {"value": 1}}}}}}
      }
    },
    {
      "data": {"name": "exp"},
      "mark": {"type": "point", "shape": "diamond", "filled": true, "size": 85, "opacity": 1},
      "encoding": {
        "x": {"field": "x", "type": "quantitative"},
        "y": {"field": "y", "type": "quantitative"},
        "color": {"field": "kind", "type": "nominal"}
      }
    },
    {
      "data": {"name": "notesR"},
      "mark": {"type": "text", "font": "Liberation Serif", "fontSize": 30, "fontWeight": "bold", "color": "#222", "baseline": "middle", "align": "center"},
      "encoding": {
        "x": {"field": "x", "type": "quantitative"},
        "y": {"field": "y", "type": "quantitative"},
        "text": {"field": "t"}
      }
    }
  ]
}
]
}
